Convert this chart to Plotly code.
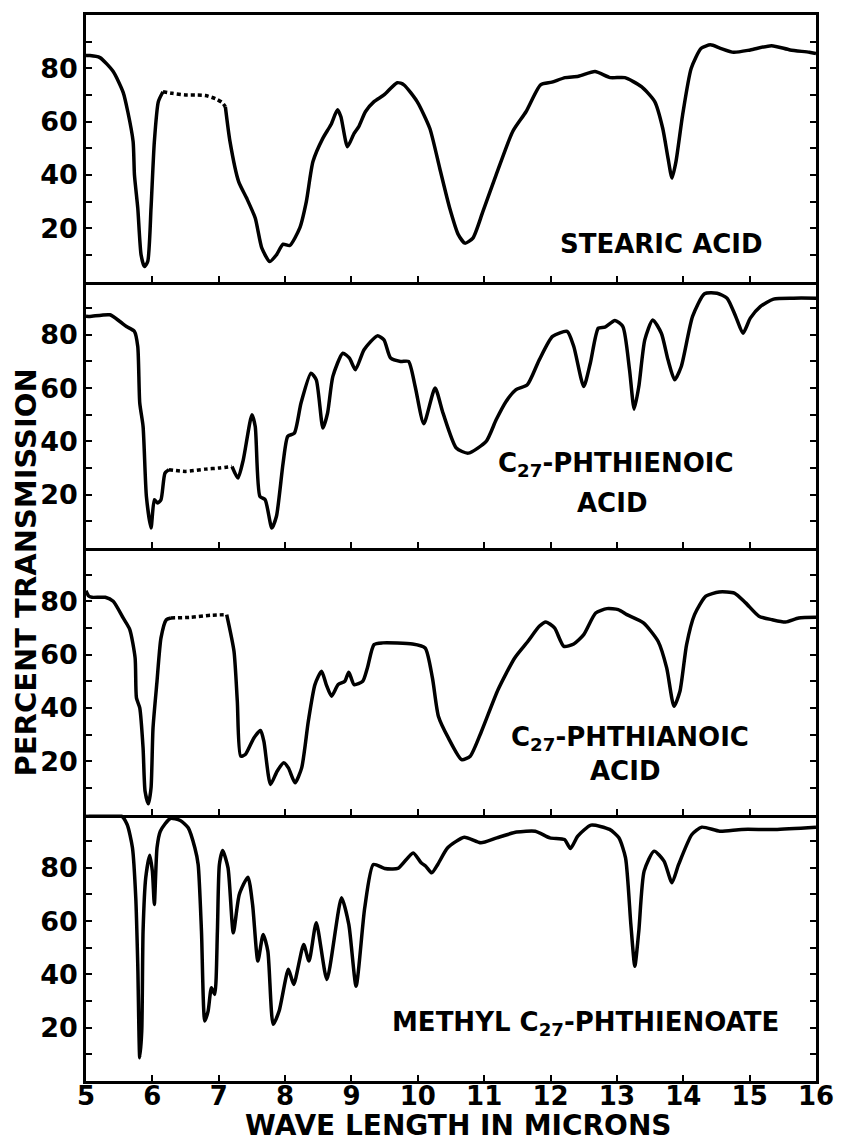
import plotly.graph_objects as go
from plotly.subplots import make_subplots

# ---------------- data (wavelength in microns, percent transmission) -------------
x_ticks = [5, 6, 7, 8, 9, 10, 11, 12, 13, 14, 15, 16]
x_tick_text = ["5", "6", "7", "8", "9", "10", "11", "12", "13", "14", "15", "16"]
y_ticks = [20, 40, 60, 80]
y_tick_text = ["20", "40", "60", "80"]
y_minor_ticks = [10, 30, 50, 70, 90]

# Panel 1: stearic acid
stearic_a_x = [5.0, 5.06, 5.21, 5.41, 5.56, 5.63, 5.71, 5.73, 5.78, 5.83, 5.88, 5.93, 5.98, 6.03, 6.09, 6.16]
stearic_a_y = [84.8, 84.8, 84, 78.8, 71, 63.7, 52.5, 40, 27.6, 10, 5.6, 7.5, 27.6, 52.5, 67.5, 71.2]
stearic_dot_x = [6.16, 6.3, 6.5, 6.65, 6.8, 6.95, 7.05, 7.10]
stearic_dot_y = [71.2, 70.6, 70, 70, 69.8, 68.6, 67.2, 65.6]
stearic_b_x = [7.10, 7.17, 7.30, 7.42, 7.55, 7.65, 7.77, 7.87, 7.97, 8.07, 8.22, 8.32, 8.42, 8.57,
               8.69, 8.79, 8.84, 8.94, 9.04, 9.11, 9.21, 9.34, 9.49, 9.69, 9.79, 9.99, 10.18, 10.33,
               10.48, 10.61, 10.71, 10.83, 10.98, 11.18, 11.43, 11.63, 11.85, 12.02, 12.22, 12.42,
               12.67, 12.90, 13.12, 13.37, 13.57, 13.69, 13.77, 13.83, 13.89, 13.99, 14.12, 14.27,
               14.41, 14.56, 14.76, 15.01, 15.33, 15.61, 15.90, 16.0]
stearic_b_y = [65.6, 52.5, 37.5, 31.3, 23.8, 12.5, 7.5, 10, 14, 13.5, 20, 30, 45, 53.8,
               58.8, 64.4, 61.9, 50.6, 55.6, 58.1, 63.7, 67.5, 70, 74.6, 73.8, 67.5, 57.5, 42.5,
               27.6, 17.6, 14.4, 16.3, 26.2, 40, 56.3, 63.7, 73.8, 74.8, 76.5, 77,
               78.8, 76.5, 76.5, 73.1, 67.5, 57.5, 46.3, 38.8, 45, 62.5, 80, 87.5,
               88.8, 87.5, 86, 86.9, 88.5, 86.9, 86, 85.5]

# Panel 2: C27-phthienoic acid
phthienoic_a_x = [5.0, 5.06, 5.36, 5.51, 5.61, 5.73, 5.78, 5.81, 5.86, 5.91, 5.98, 6.03, 6.08, 6.13, 6.19, 6.25]
phthienoic_a_y = [87, 86.9, 87.5, 85, 83.1, 81.25, 75.6, 54.4, 45.6, 19.4, 7.5, 18.1, 16.9, 18.1, 28.1, 29.4]
phthienoic_dot_x = [6.25, 6.5, 6.8, 7.0, 7.2]
phthienoic_dot_y = [29.4, 28.75, 29.6, 30, 30.6]
phthienoic_b_x = [7.2, 7.29, 7.37, 7.50, 7.55, 7.62, 7.70, 7.80, 7.87, 7.97, 8.04, 8.14, 8.24, 8.39,
                  8.47, 8.57, 8.64, 8.72, 8.87, 8.97, 9.06, 9.19, 9.39, 9.49, 9.59, 9.74, 9.86, 9.96,
                  10.09, 10.26, 10.38, 10.58, 10.76, 11.03, 11.18, 11.33, 11.48, 11.65, 11.83, 12.03,
                  12.25, 12.35, 12.50, 12.60, 12.72, 12.82, 12.97, 13.09, 13.19, 13.26, 13.33, 13.42,
                  13.54, 13.67, 13.77, 13.87, 13.97, 14.14, 14.32, 14.51, 14.66, 14.79, 14.90, 15.01,
                  15.16, 15.36, 15.66, 16.0]
phthienoic_b_y = [30.6, 26.25, 33.1, 50, 45.6, 19.4, 18.1, 7.5, 11.9, 31.9, 41.9, 43.1, 54.4, 65.6,
                  63.1, 45, 50.6, 64.4, 73.1, 71.25, 66.9, 74.4, 79.6, 78.1, 71.25, 70, 70, 60.6,
                  46.6, 60, 50.6, 37.5, 35.6, 40, 48.1, 55, 59.4, 61.25, 70.6, 79.4,
                  81.25, 75.6, 60.6, 69.4, 82.5, 82.9, 85.4, 83.1, 66.9, 52.1, 60.6, 78.1,
                  85.6, 80.6, 70.6, 63.1, 68.1, 86.9, 95.4, 95.6, 93.75, 86.9, 80.6, 86.25,
                  90.6, 93.4, 93.75, 93.75]

# Panel 3: C27-phthianoic acid
phthianoic_a_x = [5.0, 5.04, 5.09, 5.29, 5.41, 5.56, 5.66, 5.74, 5.76, 5.81, 5.86, 5.89, 5.94, 5.98,
                  6.01, 6.07, 6.13, 6.21, 6.28]
phthianoic_a_y = [84, 82, 81.5, 81.5, 80, 73.75, 69.4, 58.75, 43.75, 40, 25, 8.75, 4, 10,
                  32.5, 50, 66.25, 73.1, 73.75]
phthianoic_dot_x = [6.28, 6.58, 6.88, 7.12]
phthianoic_dot_y = [73.75, 74, 74.75, 75]
phthianoic_b_x = [7.12, 7.23, 7.28, 7.33, 7.40, 7.53, 7.63, 7.68, 7.78, 7.88, 7.98, 8.05, 8.15, 8.25,
                  8.35, 8.45, 8.55, 8.62, 8.70, 8.80, 8.90, 8.96, 9.04, 9.17, 9.24, 9.34, 9.47, 9.92,
                  10.11, 10.22, 10.31, 10.46, 10.66, 10.79, 10.96, 11.21, 11.46, 11.66, 11.83, 11.93,
                  12.06, 12.20, 12.35, 12.50, 12.68, 12.85, 13.02, 13.15, 13.40, 13.62, 13.75, 13.86,
                  13.95, 14.05, 14.17, 14.34, 14.54, 14.77, 14.94, 15.14, 15.34, 15.54, 15.74, 16.0]
phthianoic_b_y = [75, 61.25, 42.5, 21.9, 22.5, 28.75, 31.5, 27.5, 11.25, 16.25, 19.4, 17.5, 11.9, 17.5,
                  35, 48.75, 53.75, 48.75, 44.4, 48.75, 50, 53.4, 48.75, 50, 55, 63.75, 64.4, 64,
                  62.5, 51.25, 36.9, 28.75, 20.6, 21.9, 31.25, 46.9, 58.75, 65, 70.6, 72.25,
                  70, 63.1, 64, 67.5, 75.6, 77.25, 76.9, 75, 71.9, 65, 55, 40.6,
                  46.25, 63.75, 75, 81.9, 83.5, 83.1, 79.4, 74.4, 73.1, 72.25, 73.75, 74]

# Panel 4: methyl C27-phthienoate
methyl_x = [5.0, 5.52, 5.62, 5.70, 5.75, 5.78, 5.81, 5.84, 5.86, 5.90, 5.96, 6.00, 6.03, 6.07,
            6.12, 6.27, 6.42, 6.54, 6.64, 6.69, 6.74, 6.79, 6.84, 6.89, 6.94, 6.98, 7.01, 7.06,
            7.14, 7.22, 7.31, 7.44, 7.51, 7.59, 7.67, 7.74, 7.82, 7.91, 8.05, 8.13, 8.28, 8.36,
            8.47, 8.63, 8.85, 8.96, 9.07, 9.20, 9.33, 9.50, 9.70, 9.93, 10.05, 10.12, 10.21, 10.30,
            10.45, 10.70, 10.95, 11.19, 11.49, 11.77, 11.99, 12.21, 12.30, 12.41, 12.61, 12.89,
            13.03, 13.13, 13.21, 13.27, 13.33, 13.41, 13.56, 13.71, 13.83, 13.93, 14.13, 14.28,
            14.55, 14.88, 15.38, 16.0]
methyl_y = [99.4, 99.75, 96.25, 87.5, 68.75, 43.75, 8.75, 18.75, 56.25, 76.25, 84.75, 78.75, 66.25, 87.5,
            93.75, 98.5, 97.75, 95, 87.5, 81.25, 56.25, 22.5, 26.25, 35, 32.5, 56.25, 81.25, 86.5,
            80, 55.6, 70, 76.5, 66.25, 45, 55, 48.75, 21.25, 26.25, 41.9, 36.25, 51.25, 45,
            59.4, 38.1, 68.75, 58.75, 35.6, 65, 81.25, 79.75, 79.75, 85.6, 81.9, 80.6, 78.1, 81.25,
            87.5, 91.5, 89.4, 91.25, 93.4, 93.75, 91.25, 90.6, 87.25, 91.9, 96, 94.4,
            91.25, 83.75, 58.75, 43.1, 56.25, 78.75, 86.25, 82.5, 74.4, 81.25, 92.5, 95.25,
            93.75, 94.4, 94.4, 95.25]

# ---------------- figure -------------------------------------------------------
FONT = "DejaVu Sans"
fig = make_subplots(rows=4, cols=1, shared_xaxes=True, vertical_spacing=0)

panels = [
    [(stearic_a_x, stearic_a_y, "solid"), (stearic_dot_x, stearic_dot_y, "4px,3px"),
     (stearic_b_x, stearic_b_y, "solid")],
    [(phthienoic_a_x, phthienoic_a_y, "solid"), (phthienoic_dot_x, phthienoic_dot_y, "4px,3px"),
     (phthienoic_b_x, phthienoic_b_y, "solid")],
    [(phthianoic_a_x, phthianoic_a_y, "solid"), (phthianoic_dot_x, phthianoic_dot_y, "4px,3px"),
     (phthianoic_b_x, phthianoic_b_y, "solid")],
    [(methyl_x, methyl_y, "solid")],
]

for r, segs in enumerate(panels, start=1):
    for xs, ys, dash in segs:
        fig.add_trace(go.Scatter(x=xs, y=ys, mode="lines",
                                 line=dict(color="black", width=3.5, dash=dash,
                                           shape="spline", smoothing=0.6),
                                 showlegend=False, hoverinfo="skip"),
                      row=r, col=1)

for r in range(1, 5):
    fig.update_yaxes(range=[0, 100], tickvals=y_ticks, ticktext=y_tick_text,
                     ticks="inside", ticklen=6, tickwidth=2, tickcolor="black",
                     minor=dict(tickvals=y_minor_ticks, ticks="inside", ticklen=6,
                                tickwidth=2, tickcolor="black", showgrid=False),
                     showline=True, linecolor="black", linewidth=2.5, mirror="ticks",
                     showgrid=False, zeroline=False,
                     tickfont=dict(family=FONT, size=27, color="black", weight="bold"),
                     row=r, col=1)
    fig.update_xaxes(range=[5, 16], tickvals=x_ticks, ticktext=x_tick_text,
                     ticks="inside", ticklen=6, tickwidth=2, tickcolor="black",
                     showline=True, linecolor="black", linewidth=2.5,
                     mirror=(r == 1),
                     showgrid=False, zeroline=False, ticklabelstandoff=-10,
                     tickfont=dict(family=FONT, size=26, color="black", weight="bold"),
                     row=r, col=1)

lab_font = dict(family=FONT, size=26, color="black", weight="bold")
labels = [
    ("STEARIC ACID", 13.67, 13.9, "y"),
    ("C<sub>27</sub>-PHTHIENOIC", 12.98, 31.5, "y2"),
    ("ACID", 12.92, 16.9, "y2"),
    ("C<sub>27</sub>-PHTHIANOIC", 13.2, 28.5, "y3"),
    ("ACID", 13.12, 16.25, "y3"),
    ("METHYL C<sub>27</sub>-PHTHIENOATE", 12.53, 21.5, "y4"),
]
for txt, xv, yv, yr in labels:
    fig.add_annotation(text=txt, x=xv, y=yv, xref="x", yref=yr, showarrow=False,
                       font=lab_font, xanchor="center", yanchor="middle")

fig.add_annotation(text="PERCENT TRANSMISSION", xref="paper", yref="paper",
                   x=0, y=0.477, xshift=-60, textangle=-90, showarrow=False,
                   font=dict(family=FONT, size=29, color="black", weight="bold"),
                   xanchor="center", yanchor="middle")
fig.add_annotation(text="WAVE LENGTH IN MICRONS", xref="paper", yref="paper",
                   x=0.51, y=0, yshift=-44, showarrow=False,
                   font=dict(family=FONT, size=28, color="black", weight="bold"),
                   xanchor="center", yanchor="middle")

fig.update_layout(width=846, height=1142,
                  margin=dict(l=86, r=23, t=13, b=61),
                  paper_bgcolor="white", plot_bgcolor="white",
                  font=dict(family=FONT, color="black"))

fig.write_html("out.html", config={"displayModeBar": False},
               post_script="document.body.style.margin='0';document.body.style.padding='0';")
